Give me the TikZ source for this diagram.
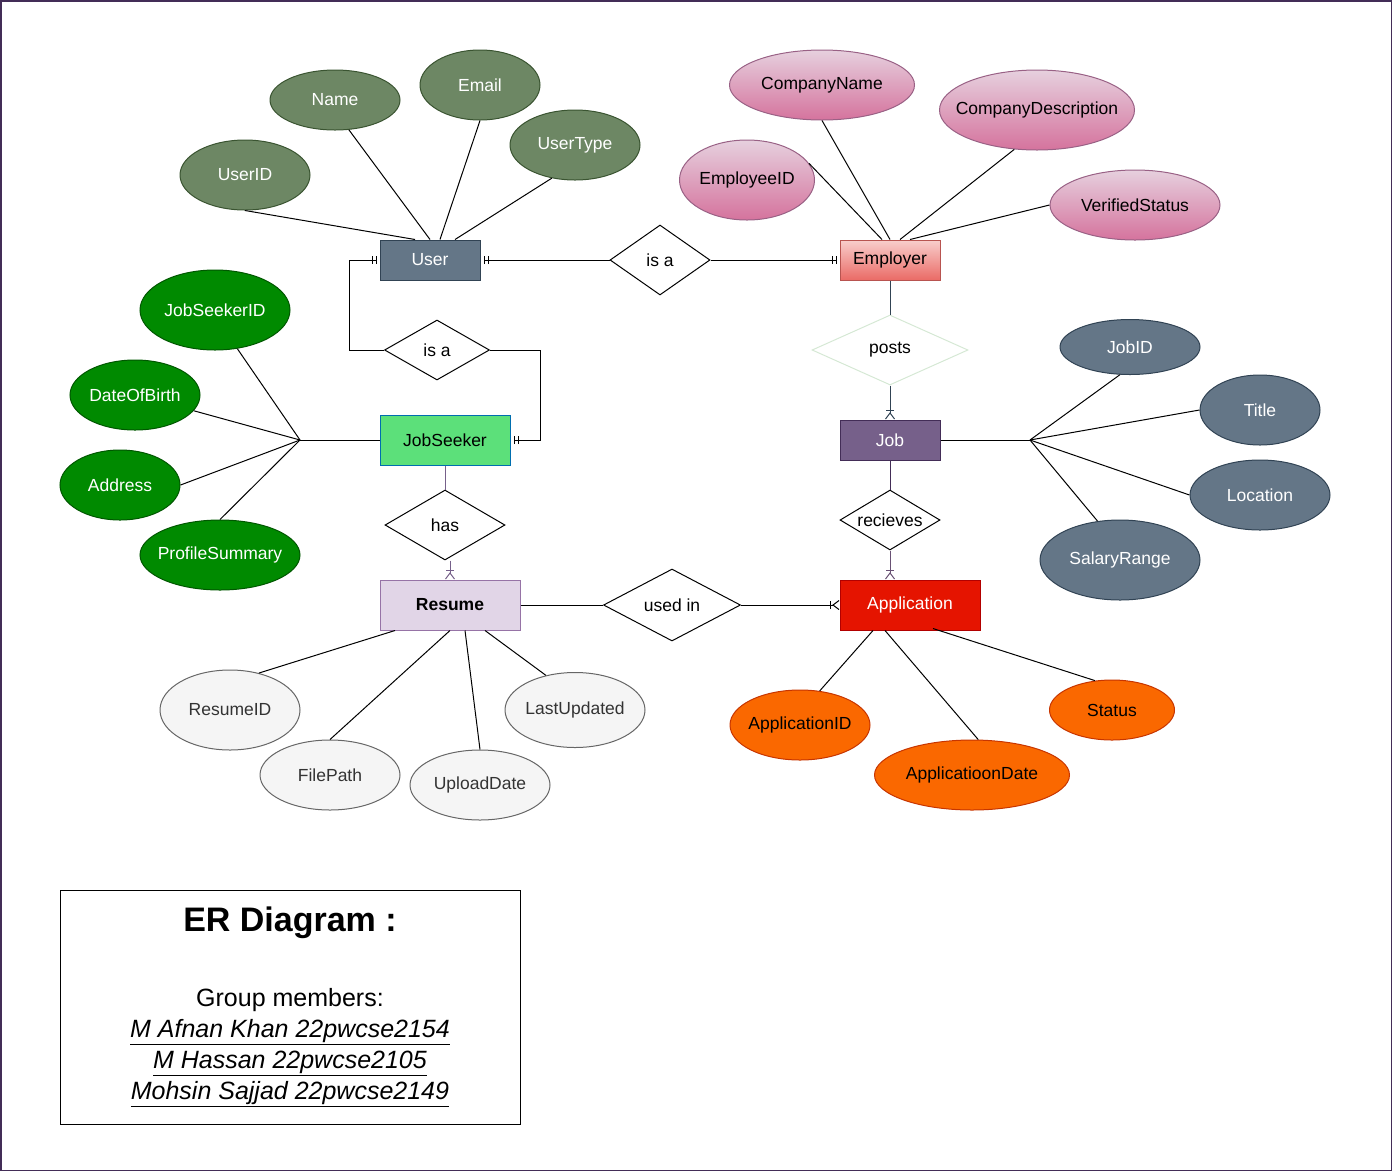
\documentclass[tikz,border=0pt]{standalone}
\usepackage{fontspec}
\setmainfont{Liberation Sans}
\usetikzlibrary{shapes.geometric,arrows.meta,positioning,calc}

\definecolor{frame}{HTML}{432D57}
\definecolor{slate}{HTML}{647687}
\definecolor{slateline}{HTML}{314354}
\definecolor{sage}{HTML}{6D8764}
\definecolor{sageline}{HTML}{3A5431}
\definecolor{pinktop}{HTML}{E6D0DE}
\definecolor{pinkbot}{HTML}{D5739D}
\definecolor{pinkline}{HTML}{996185}
\definecolor{redtop}{HTML}{F8CECC}
\definecolor{redbot}{HTML}{EA6B66}
\definecolor{redline}{HTML}{B85450}
\definecolor{leaf}{HTML}{5CE07A}
\definecolor{leafline}{HTML}{006EAF}
\definecolor{forest}{HTML}{008A00}
\definecolor{forestline}{HTML}{005700}
\definecolor{violet}{HTML}{76608A}
\definecolor{lilac}{HTML}{E1D5E7}
\definecolor{lilacline}{HTML}{9673A6}
\definecolor{fire}{HTML}{E51400}
\definecolor{fireline}{HTML}{B20000}
\definecolor{amber}{HTML}{FA6800}
\definecolor{amberline}{HTML}{C73500}
\definecolor{ash}{HTML}{F5F5F5}
\definecolor{ashline}{HTML}{666666}
\definecolor{ashtext}{HTML}{333333}
\definecolor{mint}{HTML}{D5E8D4}

\begin{document}
\begin{tikzpicture}[x=1pt, y=-1pt, line width=1pt,
  font=\fontsize{17.5}{21}\selectfont,
  entity/.style={draw, rectangle, inner sep=0pt, minimum width=100pt, minimum height=40pt},
  rel/.style={draw, diamond, aspect=1.6, inner sep=0pt},
  attr/.style={draw, ellipse, inner xsep=-25pt, inner ysep=0pt},
  usrattr/.style={attr, fill=sage, draw=sageline, text=white},
  empattr/.style={attr, top color=pinktop, bottom color=pinkbot, draw=pinkline},
  seekattr/.style={attr, fill=forest, draw=forestline, text=white},
  jobattr/.style={attr, fill=slate, draw=slateline, text=white},
  resattr/.style={attr, fill=ash, draw=ashline, text=ashtext},
  appattr/.style={attr, fill=amber, draw=amberline},
  onestart/.style={{Bar[width=8pt,sep=3pt]Bar[width=8pt,sep=3pt]}-},
  oneend/.style={-{Bar[width=8pt,sep=3pt]Bar[width=8pt,sep=3pt]}},
  manyend/.style={-{Bar[width=8pt,sep=1pt]Straight Barb[reversed,length=6pt,width=9pt]}}]

\useasboundingbox (0,0) rectangle (1392,1171);
\draw[frame, line width=1.5pt] (0.75,0.75) rectangle (1391.25,1170.25);

% entities
\node (user) [entity, fill=slate, draw=slateline, text=white] at (430,260) {User};
\node (employer) [entity, top color=redtop, bottom color=redbot, draw=redline] at (890,260) {Employer};
\node (seeker) [entity, fill=leaf, draw=leafline, minimum width=130pt, minimum height=50pt] at (445,440) {JobSeeker};
\node (job) [entity, fill=violet, draw=frame, text=white] at (890,440) {Job};
\node (resume) [entity, fill=lilac, draw=lilacline, minimum width=140pt, minimum height=50pt, font=\fontsize{17.5}{21}\selectfont\bfseries] at (450,605) {Resume};
\node (application) [entity, fill=fire, draw=fireline, text=white, minimum width=140pt, minimum height=50pt] at (910,605) {Application};

% relationships
\node (isa1) [rel, minimum width=100pt, minimum height=70pt] at (660,260) {is a};
\node (isa2) [rel, minimum width=105pt, minimum height=60pt] at (437,350) {is a};
\node (posts) [rel, draw=mint, minimum width=156pt, minimum height=70pt] at (890,350) {posts};
\node (has) [rel, minimum width=120pt, minimum height=70pt] at (445,525) {has};
\node (recieves) [rel, minimum width=100pt, minimum height=60pt] at (890,520) {recieves};
\node (usedin) [rel, minimum width=137pt, minimum height=72pt] at (672,605) {used in};

% user attributes
\node (name) [usrattr, minimum width=130pt, minimum height=60pt] at (335,100) {Name};
\node (email) [usrattr, minimum width=120pt, minimum height=70pt] at (480,85) {Email};
\node (usertype) [usrattr, minimum width=130pt, minimum height=70pt] at (575,145) {UserType};
\node (userid) [usrattr, minimum width=130pt, minimum height=70pt] at (245,175) {UserID};

% employer attributes
\node (compname) [empattr, minimum width=185pt, minimum height=70pt] at (822,85) {CompanyName};
\node (compdesc) [empattr, minimum width=195pt, minimum height=80pt] at (1037,110) {CompanyDescription};
\node (empid) [empattr, minimum width=135pt, minimum height=80pt] at (747,180) {EmployeeID};
\node (verified) [empattr, minimum width=170pt, minimum height=70pt] at (1135,205) {VerifiedStatus};

% jobseeker attributes
\node (seekerid) [seekattr, minimum width=150pt, minimum height=80pt] at (215,310) {JobSeekerID};
\node (dob) [seekattr, minimum width=130pt, minimum height=70pt] at (135,395) {DateOfBirth};
\node (address) [seekattr, minimum width=120pt, minimum height=70pt] at (120,485) {Address};
\node (summary) [seekattr, minimum width=160pt, minimum height=70pt] at (220,555) {ProfileSummary};
\coordinate (seekhub) at (300,440);

% job attributes
\node (jobid) [jobattr, minimum width=140pt, minimum height=55pt] at (1130,347) {JobID};
\node (title) [jobattr, minimum width=120pt, minimum height=70pt] at (1260,410) {Title};
\node (location) [jobattr, minimum width=140pt, minimum height=70pt] at (1260,495) {Location};
\node (salary) [jobattr, minimum width=160pt, minimum height=80pt] at (1120,560) {SalaryRange};
\coordinate (jobhub) at (1030,440);

% resume attributes
\node (resid) [resattr, minimum width=140pt, minimum height=80pt] at (230,710) {ResumeID};
\node (filepath) [resattr, minimum width=140pt, minimum height=70pt] at (330,775) {FilePath};
\node (upload) [resattr, minimum width=140pt, minimum height=70pt] at (480,785) {UploadDate};
\node (updated) [resattr, minimum width=140pt, minimum height=75pt] at (575,710) {LastUpdated};

% application attributes
\node (appid) [appattr, minimum width=140pt, minimum height=70pt] at (800,725) {ApplicationID};
\node (appdate) [appattr, minimum width=195pt, minimum height=70pt] at (972,775) {ApplicatioonDate};
\node (status) [appattr, minimum width=125pt, minimum height=60pt] at (1112,710) {Status};

% attribute links
\draw (userid.south) -- ([xshift=-15pt]user.north);
\draw (name.295) -- (user.north);
\draw (email.south) -- ([xshift=10pt]user.north);
\draw (usertype.235) -- ([xshift=25pt]user.north);
\draw (compname.south) -- (employer.north);
\draw (compdesc.240) -- ([xshift=10pt]employer.north);
\draw (empid.15) -- ([xshift=-8pt]employer.north);
\draw (verified.west) -- ([xshift=20pt]employer.north);
\draw (seekerid.300) -- (seekhub);
\draw (dob.345) -- (seekhub);
\draw (address.east) -- (seekhub);
\draw (summary.north) -- (seekhub);
\draw (seekhub) -- (seeker.west);
\draw (job.east) -- (jobhub);
\draw (jobid.250) -- (jobhub);
\draw (title.west) -- (jobhub);
\draw (location.west) -- (jobhub);
\draw (salary.120) -- (jobhub);
\draw (resid.52) -- ([xshift=-55pt]resume.south);
\draw (filepath.north) -- (resume.south);
\draw (upload.north) -- ([xshift=15pt]resume.south);
\draw (updated.130) -- ([xshift=35pt]resume.south);
\draw (appid.60) -- ([xshift=-37pt]application.south);
\draw (appdate.80) -- ([xshift=-25pt]application.south);
\draw (status.120) -- ([xshift=23pt,yshift=2pt]application.south);

% relationship links
\draw[onestart] (user.east) -- (isa1.west);
\draw[oneend] (isa1.east) -- (employer.west);
\draw[onestart] (user.west) -- ++(-30,0) |- (isa2.west);
\draw[oneend] (isa2.east) -- ++(50,0) |- (seeker.east);
\draw[slateline] (employer.south) -- (posts.north);
\draw[slateline, manyend] (posts.south) -- (job.north);
\draw[frame] (job.south) -- (recieves.north);
\draw[lilacline!70!black, manyend] (recieves.south) -- (application.north -| recieves.south);
\draw[violet] (seeker.south) -- (has.north);
\draw[violet, manyend] ([xshift=5pt]has.south) -- (resume.north);
\draw (resume.east) -- (usedin.west);
\draw[manyend] (usedin.east) -- (application.west);

% caption box
\node (caption) [draw, minimum width=460pt, minimum height=234pt, align=center,
  font=\fontsize{25}{31}\selectfont] at (290,1007)
  {{\fontsize{34}{40}\selectfont\bfseries ER Diagram :}\\[44pt]
   Group members:\\
   \underline{\textit{M Afnan Khan 22pwcse2154}}\\
   \underline{\textit{M Hassan 22pwcse2105}}\\
   \underline{\textit{Mohsin Sajjad 22pwcse2149}}};
\end{tikzpicture}
\end{document}
